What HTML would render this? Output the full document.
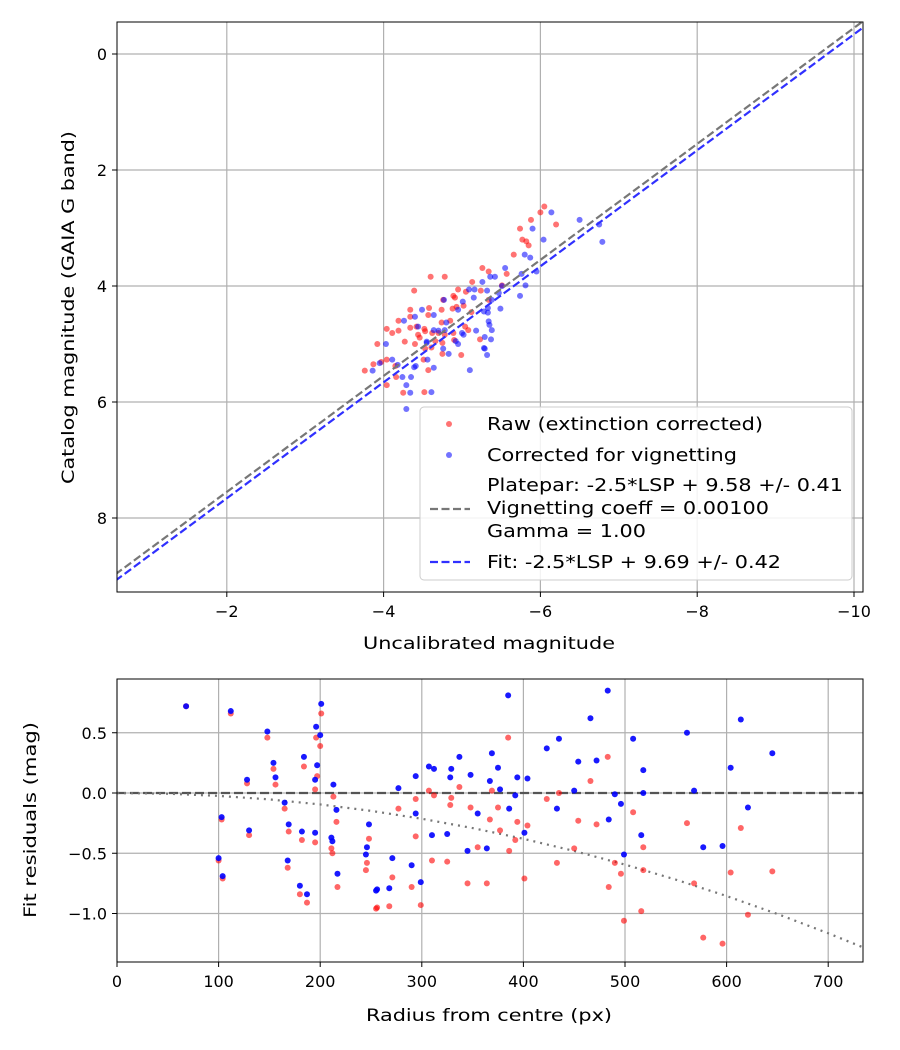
<!DOCTYPE html>
<html><head><meta charset="utf-8"><style>
body{margin:0;background:#fff;}
svg{display:block;font-family:"DejaVu Sans","Liberation Sans",sans-serif;}
</style></head><body>
<svg id="s" width="900" height="1050" xmlns="http://www.w3.org/2000/svg"></svg>
<script>
// ---------- top chart data ----------
const topXTicks=[-2,-4,-6,-8,-10];
const topYTicks=[0,2,4,6,8];
const rawX=[-6.05,-6.00,-5.88,-6.20,-5.74,-5.77,-5.82,-5.85,-5.66,-5.26,-5.34,-5.57,-4.60,-4.78,-5.13,-5.51,-4.39,-4.95,-5.05,-5.24,-4.89,-4.91,-5.34,-4.76,-4.34,-4.58,-4.74,-4.93,-4.88,-5.02,-5.12,-4.57,-4.34,-4.19,-4.74,-4.85,-4.04,-4.11,-4.19,-4.34,-4.42,-4.52,-4.53,-4.44,-4.62,-4.70,-4.78,-4.89,-5.04,-5.08,-3.92,-4.27,-4.46,-4.66,-4.75,-4.90,-5.23,-4.04,-3.87,-3.76,-3.97,-4.15,-4.51,-4.57,-4.75,-4.99,-4.16,-4.04,-4.25,-4.52,-4.40,-4.53,-4.61];
const rawY=[2.63,2.73,2.86,2.94,3.01,3.20,3.23,3.30,3.46,3.69,3.75,3.79,3.84,3.84,3.93,3.99,4.08,4.06,4.10,4.08,4.17,4.20,4.24,4.24,4.41,4.38,4.41,4.36,4.39,4.34,4.45,4.50,4.53,4.60,4.63,4.60,4.74,4.81,4.77,4.72,4.70,4.74,4.78,4.84,4.81,4.81,4.84,4.81,4.70,4.76,5.00,4.96,4.89,4.95,4.98,4.93,4.92,5.27,5.35,5.46,5.31,5.38,5.27,5.45,5.17,5.19,5.57,5.71,5.84,5.83,5.00,5.08,5.06];
const corX=[-6.14,-6.50,-6.75,-6.79,-5.90,-6.04,-5.80,-5.87,-5.55,-5.95,-5.76,-5.36,-5.42,-5.26,-5.81,-5.51,-5.09,-5.16,-5.32,-5.47,-5.74,-5.15,-4.77,-5.01,-5.38,-5.28,-5.33,-4.95,-4.49,-4.64,-4.40,-4.26,-5.34,-5.35,-4.80,-4.44,-4.70,-4.64,-4.78,-5.00,-5.02,-5.18,-5.38,-5.29,-5.37,-4.03,-4.55,-4.55,-4.92,-5.28,-5.29,-4.76,-4.83,-4.95,-5.32,-4.11,-3.95,-3.86,-4.56,-4.41,-4.39,-4.64,-5.10,-4.18,-4.24,-4.35,-4.29,-4.34,-4.61,-4.29,-5.49,-5.33];
const corY=[2.73,2.86,2.94,3.24,3.01,3.20,3.46,3.51,3.69,3.75,3.79,3.84,3.84,3.93,3.99,4.00,4.06,4.06,4.08,4.12,4.17,4.20,4.24,4.27,4.24,4.44,4.38,4.41,4.41,4.50,4.53,4.60,4.61,4.67,4.63,4.70,4.77,4.76,4.76,4.81,4.84,4.77,4.76,4.88,4.92,5.00,4.98,4.96,4.95,5.07,5.08,5.08,5.17,5.00,5.19,5.27,5.33,5.46,5.27,5.38,5.40,5.41,5.45,5.36,5.57,5.57,5.71,5.84,5.83,6.12,4.39,4.46];
const plateparOffset=9.55;
const fitOffset=9.66;
// ---------- bottom chart data ----------
const botXTicks=[0,100,200,300,400,500,600,700];
const botYTicks=[0.5,0.0,-0.5,-1.0];
const botYLabels=["0.5","0.0","\u22120.5","\u22121.0"];
const radius=[68,112,103,100,104,128,130,148,154,156,165,169,168,180,187,182,184,196,200,201,197,195,195,213,216,211,212,217,248,246,245,255,256,268,271,277,290,294,294,299,307,312,310,325,328,329,337,348,355,345,364,369,375,367,377,385,394,404,392,386,401,423,435,454,472,466,483,450,433,490,496,484,499,516,508,518,518,561,568,577,596,604,614,621,645];
const resCor=[0.72,0.68,-0.20,-0.54,-0.69,0.11,-0.31,0.51,0.25,0.13,-0.08,-0.26,-0.56,-0.77,-0.84,-0.32,0.30,0.55,0.48,0.74,0.23,0.11,-0.33,0.07,-0.14,-0.37,-0.40,-0.67,-0.26,-0.45,-0.51,-0.81,-0.80,-0.79,-0.54,0.04,-0.60,-0.17,0.14,-0.74,0.22,0.20,-0.35,-0.34,0.13,0.20,0.30,0.15,-0.17,-0.48,-0.46,0.33,0.21,0.10,0.03,0.81,0.13,0.12,-0.02,-0.13,-0.33,0.37,0.45,0.26,0.27,0.62,0.85,0.02,-0.13,-0.01,-0.09,-0.22,-0.51,-0.35,0.45,0.19,0.00,0.50,0.02,-0.45,-0.44,0.21,0.61,-0.12,0.33];
const resRaw=[0.72,0.66,-0.22,-0.56,-0.71,0.08,-0.35,0.46,0.20,0.07,-0.13,-0.32,-0.62,-0.84,-0.91,-0.39,0.22,0.46,0.39,0.66,0.14,0.03,-0.41,-0.03,-0.24,-0.46,-0.50,-0.78,-0.38,-0.58,-0.64,-0.96,-0.95,-0.94,-0.70,-0.13,-0.78,-0.36,-0.05,-0.93,0.02,-0.02,-0.56,-0.57,-0.10,-0.04,0.05,-0.12,-0.45,-0.75,-0.75,0.02,-0.12,-0.22,-0.31,0.46,-0.24,-0.27,-0.39,-0.48,-0.71,-0.05,0.00,-0.23,-0.26,0.10,0.30,-0.46,-0.58,-0.58,-0.67,-0.78,-1.06,-0.98,-0.16,-0.45,-0.64,-0.25,-0.75,-1.20,-1.25,-0.66,-0.29,-1.01,-0.65];
const curveR=[0,50,100,150,200,250,300,350,400,450,500,550,600,650,700,734];
const curveY=[0,-0.006,-0.024,-0.053,-0.095,-0.148,-0.214,-0.291,-0.380,-0.481,-0.594,-0.719,-0.855,-1.004,-1.164,-1.280];

const NS="http://www.w3.org/2000/svg";
const svg=document.getElementById('s');
function mk(tag,attrs,parent){const e=document.createElementNS(NS,tag);for(const k in attrs)e.setAttribute(k,attrs[k]);(parent||svg).appendChild(e);return e;}

// ---------- top axes ----------
const T={l:117,r:863,t:22,b:592};
const tx=v=>70-78.4*v;
const ty=v=>54+58*v;
const gTop=mk('g',{});


mk('rect',{x:T.l,y:T.t,width:T.r-T.l,height:T.b-T.t,fill:'#fff'},gTop);
topXTicks.forEach(v=>{
  const l=mk('line',{x1:tx(v),x2:tx(v),y1:T.t,y2:T.b,stroke:'#b0b0b0','stroke-width':1.2},gTop);
  
  mk('line',{x1:tx(v),x2:tx(v),y1:T.b,y2:T.b+5,stroke:'#000'},gTop);
  const t=mk('text',{x:tx(v),y:T.b+25,'font-size':16,'text-anchor':'middle'},gTop);
  t.textContent=String(v).replace('-','\u2212');
  
});
topYTicks.forEach(v=>{
  const l=mk('line',{x1:T.l,x2:T.r,y1:ty(v),y2:ty(v),stroke:'#b0b0b0','stroke-width':1.2},gTop);
  
  mk('line',{x1:T.l-5,x2:T.l,y1:ty(v),y2:ty(v),stroke:'#000'},gTop);
  const t=mk('text',{x:T.l-10,y:ty(v)+6,'font-size':16,'text-anchor':'end'},gTop);
  t.textContent=String(v);
  
});
rawX.forEach((x,i)=>{
  const c=mk('circle',{cx:tx(x),cy:ty(rawY[i]),r:3,fill:'red','fill-opacity':0.55},gTop);
  
});
corX.forEach((x,i)=>{
  const c=mk('circle',{cx:tx(x),cy:ty(corY[i]),r:3,fill:'blue','fill-opacity':0.55},gTop);
  
});
const clip=mk('clipPath',{id:'ct'});mk('rect',{x:T.l,y:T.t,width:T.r-T.l,height:T.b-T.t},clip);
const x0=0.6,x1=-10.11;
let pl=mk('line',{x1:tx(x0),y1:ty(x0+plateparOffset),x2:tx(x1),y2:ty(x1+plateparOffset),stroke:'#777','stroke-width':2.2,'stroke-dasharray':'8,3.5','clip-path':'url(#ct)'},gTop);

let fl=mk('line',{x1:tx(x0),y1:ty(x0+fitOffset),x2:tx(x1),y2:ty(x1+fitOffset),stroke:'#3030ff','stroke-width':2.2,'stroke-dasharray':'8,3.5','clip-path':'url(#ct)'},gTop);

mk('rect',{x:T.l,y:T.t,width:T.r-T.l,height:T.b-T.t,fill:'none',stroke:'#000','stroke-width':1},gTop);
let xt=mk('text',{x:363,y:649,'font-size':17,textLength:252,lengthAdjust:'spacingAndGlyphs'},gTop);xt.textContent='Uncalibrated magnitude';

let yt=mk('text',{x:0,y:0,'font-size':17,textLength:353,lengthAdjust:'spacingAndGlyphs',transform:'translate(74,484) rotate(-90)'},gTop);yt.textContent='Catalog magnitude (GAIA G band)';


// legend
const lg=mk('g',{});

mk('rect',{x:420,y:407,width:432,height:173,rx:4,fill:'#fff','fill-opacity':0.85,stroke:'#ccc'},lg);
mk('circle',{cx:449,cy:424,r:3,fill:'red','fill-opacity':0.55},lg);
mk('circle',{cx:449,cy:455,r:3,fill:'blue','fill-opacity':0.55},lg);
mk('line',{x1:430,x2:470,y1:509,y2:509,stroke:'#777','stroke-width':2.2,'stroke-dasharray':'8,3.5'},lg);
mk('line',{x1:430,x2:470,y1:562,y2:562,stroke:'#3030ff','stroke-width':2.2,'stroke-dasharray':'8,3.5'},lg);
[['Raw (extinction corrected)',430,276],['Corrected for vignetting',461,250],['Platepar: -2.5*LSP + 9.58 +/- 0.41',491,356],['Vignetting coeff = 0.00100',514,282],['Gamma = 1.00',537,159],['Fit: -2.5*LSP + 9.69 +/- 0.42',568,294]].forEach(a=>{
  const t=mk('text',{x:487,y:a[1],'font-size':17.5,textLength:a[2],lengthAdjust:'spacingAndGlyphs'},lg);t.textContent=a[0];
  
});

// ---------- bottom axes ----------
const B={l:117,r:863,t:679,b:962};
const bx=v=>117+1.016*v;
const by=v=>793-120.5*v;
const gB=mk('g',{});

botXTicks.forEach(v=>{
  const l=mk('line',{x1:bx(v),x2:bx(v),y1:B.t,y2:B.b,stroke:'#b0b0b0','stroke-width':1.2},gB);
  
  mk('line',{x1:bx(v),x2:bx(v),y1:B.b,y2:B.b+5,stroke:'#000'},gB);
  const t=mk('text',{x:bx(v),y:B.b+25,'font-size':16,'text-anchor':'middle'},gB);t.textContent=String(v);
  
});
botYTicks.forEach((v,i)=>{
  const l=mk('line',{x1:B.l,x2:B.r,y1:by(v),y2:by(v),stroke:'#b0b0b0','stroke-width':1.2},gB);
  
  mk('line',{x1:B.l-5,x2:B.l,y1:by(v),y2:by(v),stroke:'#000'},gB);
  const t=mk('text',{x:B.l-10,y:by(v)+6,'font-size':16,'text-anchor':'end'},gB);t.textContent=botYLabels[i];
  
});
let zl=mk('line',{x1:B.l,x2:B.r,y1:by(0),y2:by(0),stroke:'#555','stroke-width':2.2,'stroke-dasharray':'9,4'},gB);

let cp=curveR.map((r,i)=>bx(r)+','+by(curveY[i])).join(' ');
let cv=mk('polyline',{points:cp,fill:'none',stroke:'#777','stroke-width':2.2,'stroke-dasharray':'2,5'},gB);

radius.forEach((r,i)=>{
  const c=mk('circle',{cx:bx(r),cy:by(resRaw[i]),r:3,fill:'red','fill-opacity':0.6},gB);
  
});
radius.forEach((r,i)=>{
  const c=mk('circle',{cx:bx(r),cy:by(resCor[i]),r:3,fill:'blue','fill-opacity':0.9},gB);
  
});
mk('rect',{x:B.l,y:B.t,width:B.r-B.l,height:B.b-B.t,fill:'none',stroke:'#000','stroke-width':1},gB);
let bxt=mk('text',{x:366,y:1021,'font-size':17,textLength:246,lengthAdjust:'spacingAndGlyphs'},gB);bxt.textContent='Radius from centre (px)';

let byt=mk('text',{x:0,y:0,'font-size':17,textLength:196,lengthAdjust:'spacingAndGlyphs',transform:'translate(36,918) rotate(-90)'},gB);byt.textContent='Fit residuals (mag)';

</script>
</body></html>
